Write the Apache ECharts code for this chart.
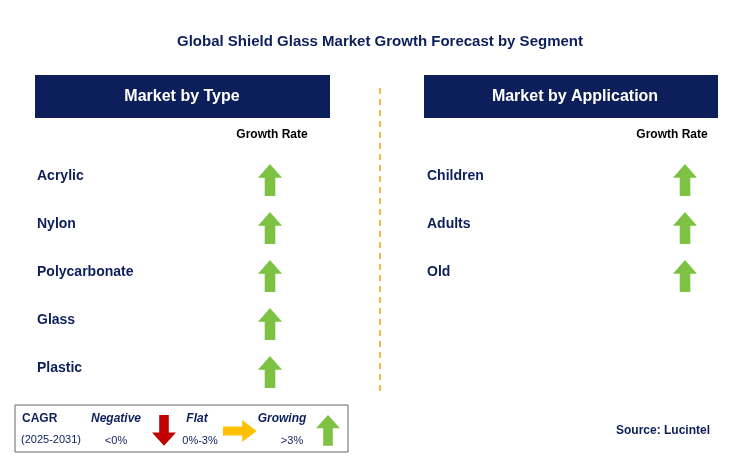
<!DOCTYPE html>
<html><head><meta charset="utf-8">
<script src="https://cdn.jsdelivr.net/npm/echarts@6/dist/echarts.min.js"></script>
<style>html,body{margin:0;padding:0;background:#fff}#c{width:731px;height:467px}</style>
</head><body><div id="c"></div>
<script>
const typeCats = ['Acrylic','Nylon','Polycarbonate','Glass','Plastic'];
const typeGrowth = ['up','up','up','up','up'];
const appCats = ['Children','Adults','Old'];
const appGrowth = ['up','up','up'];

const UP = 'path://M5,0 L10,6 L7.2,6 L7.2,14 L2.8,14 L2.8,6 L0,6 Z';
const DOWN = 'path://M3,0 L7,0 L7,8 L10,8 L5,14 L0,8 L3,8 Z';
const RIGHT = 'path://M0,3 L8,3 L8,0 L14,5 L8,10 L8,7 L0,7 Z';
const GREEN = '#7dc242', NAVY = '#0c1f5b';
const F = 'Liberation Sans, Arial, sans-serif';
const sym = g => g === 'up' ? UP : g === 'down' ? DOWN : RIGHT;
const col = g => g === 'up' ? GREEN : g === 'down' ? '#c00000' : '#ffc000';

function grid(left, top, n){ return {left:left, top:top, width:30, height:n*48}; }
function yAx(i, cats, margin){
  return {type:'category', gridIndex:i, data:cats, inverse:true,
    axisLine:{show:false}, axisTick:{show:false}, splitLine:{show:false},
    axisLabel:{margin:margin, align:'left', color:NAVY, fontWeight:'bold', fontSize:14, fontFamily:F}};
}
function xAx(i){ return {type:'value', gridIndex:i, min:-1, max:1, show:false}; }
function ser(i, cats, gr){
  return {type:'scatter', xAxisIndex:i, yAxisIndex:i,
    data: cats.map((c,k)=>({value:[0,c], symbol:sym(gr[k]), itemStyle:{color:col(gr[k]), opacity:1}})),
    symbolSize:[24,32], symbolOffset:[0,4], silent:true};
}
function poly(pts, x, y, sx, sy, fill){
  return {type:'polygon', shape:{points:pts.map(p=>[x+p[0]*sx, y+p[1]*sy])}, style:{fill:fill}};
}
const UPP = [[5,0],[10,6],[7,6],[7,14],[3,14],[3,6],[0,6]];
const DOWNP = [[3,0],[7,0],[7,8],[10,8],[5,14],[0,8],[3,8]];
const RIGHTP = [[0,3],[8,3],[8,0],[14,5],[8,10],[8,7],[0,7]];
const chart = echarts.init(document.getElementById('c'));
chart.setOption({
  animation:false,
  grid:[grid(255,152,typeCats.length), grid(670,152,appCats.length)],
  xAxis:[xAx(0), xAx(1)],
  yAxis:[yAx(0,typeCats,218), yAx(1,appCats,243)],
  series:[ser(0,typeCats,typeGrowth), ser(1,appCats,appGrowth)],
  graphic:[
    {type:'text', x:380, y:42, style:{text:'Global Shield Glass Market Growth Forecast by Segment', fill:NAVY, font:'bold 15px '+F, align:'center', verticalAlign:'middle'}},
    {type:'rect', shape:{x:35,y:75,width:295,height:43}, style:{fill:NAVY}},
    {type:'text', x:182, y:97, style:{text:'Market by Type', fill:'#fff', font:'bold 16px '+F, align:'center', verticalAlign:'middle'}},
    {type:'rect', shape:{x:424,y:75,width:294,height:43}, style:{fill:NAVY}},
    {type:'text', x:575, y:97, style:{text:'Market by Application', fill:'#fff', font:'bold 16px '+F, align:'center', verticalAlign:'middle'}},
    {type:'text', x:272, y:135, style:{text:'Growth Rate', fill:'#000', font:'bold 12px '+F, align:'center', verticalAlign:'middle'}},
    {type:'text', x:672, y:135, style:{text:'Growth Rate', fill:'#000', font:'bold 12px '+F, align:'center', verticalAlign:'middle'}},
    {type:'line', shape:{x1:380,y1:88,x2:380,y2:392}, style:{stroke:'#f0a30a', lineWidth:1.5, lineDash:[6,5]}},
    {type:'rect', shape:{x:15,y:405,width:333,height:47}, style:{fill:'#fff', stroke:'#666', lineWidth:1}},
    {type:'text', x:22, y:419, style:{text:'CAGR', fill:NAVY, font:'bold 12px '+F, verticalAlign:'middle'}},
    {type:'text', x:21, y:440, style:{text:'(2025-2031)', fill:NAVY, font:'11px '+F, verticalAlign:'middle'}},
    {type:'text', x:116, y:419, style:{text:'Negative', fill:NAVY, font:'italic bold 12px '+F, align:'center', verticalAlign:'middle'}},
    {type:'text', x:116, y:441, style:{text:'<0%', fill:NAVY, font:'11px '+F, align:'center', verticalAlign:'middle'}},
    poly(DOWNP, 152, 415, 2.4, 2.2, '#c00000'),
    {type:'text', x:197, y:419, style:{text:'Flat', fill:NAVY, font:'italic bold 12px '+F, align:'center', verticalAlign:'middle'}},
    {type:'text', x:200, y:441, style:{text:'0%-3%', fill:NAVY, font:'11px '+F, align:'center', verticalAlign:'middle'}},
    poly(RIGHTP, 223, 420, 2.4, 2.2, '#ffc000'),
    {type:'text', x:282, y:419, style:{text:'Growing', fill:NAVY, font:'italic bold 12px '+F, align:'center', verticalAlign:'middle'}},
    {type:'text', x:292, y:441, style:{text:'>3%', fill:NAVY, font:'11px '+F, align:'center', verticalAlign:'middle'}},
    poly(UPP, 316, 415, 2.4, 2.2, GREEN),
    {type:'text', x:710, y:431, style:{text:'Source: Lucintel', fill:NAVY, font:'bold 12px '+F, align:'right', verticalAlign:'middle'}}
  ]
});
</script></body></html>
